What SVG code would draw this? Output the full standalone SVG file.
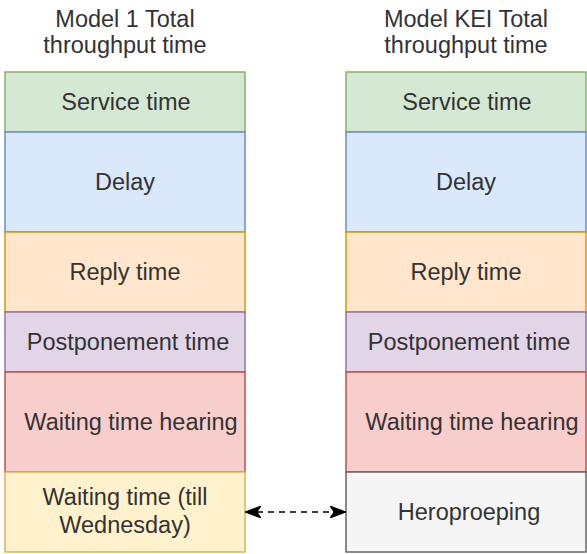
<svg xmlns="http://www.w3.org/2000/svg" width="587" height="554" viewBox="0 0 587 554">
<style>
text{font-family:"Liberation Sans",Arial,sans-serif;font-size:23.5px;fill:#333;text-anchor:middle}
rect{stroke-width:1.5}
.g{fill:#d5e8d4;stroke:#82b366}
.b{fill:#dae8fc;stroke:#6c8ebf}
.o{fill:#ffe6cc;stroke:#d79b00}
.p{fill:#e1d5e7;stroke:#9673a6}
.r{fill:#f8cecc;stroke:#b85450}
.y{fill:#fff2cc;stroke:#d6b656}
.s{fill:#f5f5f5;stroke:#666666}
</style>
<defs>
<marker id="ah" viewBox="0 0 16 12" refX="15" refY="6" markerWidth="16" markerHeight="12" markerUnits="userSpaceOnUse" orient="auto-start-reverse">
<path d="M0,0 L16,6 L0,12 L4,6 Z" fill="#000" stroke="#000" stroke-width="1"/>
</marker>
</defs>
<g id="title1"><text x="125" y="27">Model 1 Total</text><text x="125" y="53">throughput time</text></g>
<g id="title2"><text x="466" y="27">Model KEI Total</text><text x="466" y="53">throughput time</text></g>
<g id="l-service"><rect class="g" x="5" y="72" width="240" height="60"/><text x="126" y="110">Service time</text></g>
<g id="l-delay"><rect class="b" x="5" y="132" width="240" height="100"/><text x="125" y="190">Delay</text></g>
<g id="l-reply"><rect class="o" x="5" y="232" width="240" height="80"/><text x="125" y="280">Reply time</text></g>
<g id="l-post"><rect class="p" x="5" y="312" width="240" height="60"/><text x="128" y="350">Postponement time</text></g>
<g id="l-wait"><rect class="r" x="5" y="372" width="240" height="100"/><text x="131" y="430">Waiting time hearing</text></g>
<g id="l-wed"><rect class="y" x="5" y="472" width="240" height="80"/><text x="125" y="505">Waiting time (till</text><text x="125" y="533">Wednesday)</text></g>
<g id="r-service"><rect class="g" x="346" y="72" width="240" height="60"/><text x="467" y="110">Service time</text></g>
<g id="r-delay"><rect class="b" x="346" y="132" width="240" height="100"/><text x="466" y="190">Delay</text></g>
<g id="r-reply"><rect class="o" x="346" y="232" width="240" height="80"/><text x="466" y="280">Reply time</text></g>
<g id="r-post"><rect class="p" x="346" y="312" width="240" height="60"/><text x="469" y="350">Postponement time</text></g>
<g id="r-wait"><rect class="r" x="346" y="372" width="240" height="100"/><text x="472" y="430">Waiting time hearing</text></g>
<g id="r-hero"><rect class="s" x="346" y="472" width="240" height="80"/><text x="469" y="520">Heroproeping</text></g>
<g id="connectors">
<line x1="246" y1="512" x2="345" y2="512" stroke="#000" stroke-width="1.5" stroke-dasharray="6 5" marker-start="url(#ah)" marker-end="url(#ah)"/>
</g>
</svg>
